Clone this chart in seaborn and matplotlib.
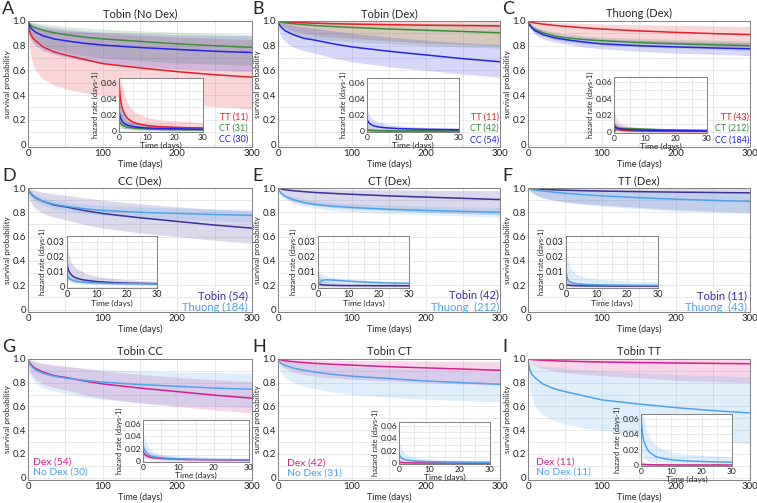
import matplotlib
matplotlib.use("Agg")
import matplotlib.pyplot as plt
from matplotlib.ticker import MultipleLocator, FuncFormatter
import seaborn as sns

# survival curves, time in days
days = [0, 1, 3, 6, 10, 20, 35, 50, 75, 100, 150, 200, 250, 300]
# hazard curves (insets), time in days
hdays = [0, 0.5, 1, 2, 3, 5, 7, 10, 15, 20, 25, 30]

# Tobin cohort, no dexamethasone
nodex_tt = [1.0, 0.95, 0.9, 0.865, 0.84, 0.79, 0.75, 0.725, 0.69, 0.655, 0.62, 0.59, 0.565, 0.545]
nodex_tt_lo = [1.0, 0.85, 0.74, 0.66, 0.6, 0.53, 0.48, 0.45, 0.42, 0.4, 0.36, 0.33, 0.31, 0.285]
nodex_tt_hi = [1.0, 0.99, 0.975, 0.965, 0.955, 0.94, 0.93, 0.92, 0.91, 0.9, 0.885, 0.87, 0.86, 0.85]
nodex_tt_h = [0.062, 0.04, 0.03, 0.021, 0.016, 0.011, 0.009, 0.007, 0.0055, 0.0048, 0.0043, 0.004]
nodex_tt_hlo = [0.02, 0.012, 0.009, 0.006, 0.0045, 0.003, 0.0025, 0.002, 0.0015, 0.0012, 0.001, 0.0009]
nodex_tt_hhi = [0.066, 0.066, 0.06, 0.045, 0.035, 0.025, 0.021, 0.017, 0.014, 0.013, 0.012, 0.011]

nodex_ct = [1.0, 0.985, 0.97, 0.955, 0.945, 0.925, 0.905, 0.89, 0.87, 0.855, 0.835, 0.815, 0.8, 0.787]
nodex_ct_lo = [1.0, 0.94, 0.9, 0.87, 0.84, 0.8, 0.77, 0.75, 0.72, 0.7, 0.68, 0.66, 0.65, 0.64]
nodex_ct_hi = [1.0, 1.0, 0.995, 0.99, 0.985, 0.975, 0.965, 0.955, 0.945, 0.935, 0.92, 0.91, 0.9, 0.89]
nodex_ct_h = [0.015, 0.01, 0.008, 0.006, 0.005, 0.004, 0.0033, 0.0028, 0.0023, 0.002, 0.0018, 0.0017]
nodex_ct_hlo = [0.005, 0.0035, 0.003, 0.0022, 0.0018, 0.0014, 0.0012, 0.001, 0.0008, 0.0007, 0.0006, 0.0006]
nodex_ct_hhi = [0.035, 0.028, 0.022, 0.016, 0.013, 0.01, 0.008, 0.007, 0.006, 0.0055, 0.005, 0.0048]

nodex_cc = [1.0, 0.975, 0.95, 0.93, 0.91, 0.88, 0.855, 0.84, 0.82, 0.805, 0.785, 0.77, 0.755, 0.745]
nodex_cc_lo = [1.0, 0.9, 0.86, 0.83, 0.8, 0.76, 0.73, 0.71, 0.68, 0.66, 0.63, 0.61, 0.6, 0.59]
nodex_cc_hi = [1.0, 1.0, 0.99, 0.98, 0.975, 0.96, 0.945, 0.935, 0.92, 0.91, 0.9, 0.89, 0.885, 0.88]
nodex_cc_h = [0.025, 0.017, 0.013, 0.009, 0.0075, 0.0058, 0.0048, 0.004, 0.0033, 0.003, 0.0027, 0.0025]
nodex_cc_hlo = [0.008, 0.006, 0.005, 0.0035, 0.003, 0.0022, 0.0018, 0.0015, 0.0012, 0.001, 0.0009, 0.0008]
nodex_cc_hhi = [0.045, 0.035, 0.028, 0.02, 0.016, 0.012, 0.01, 0.0085, 0.007, 0.0062, 0.0058, 0.0055]

# Tobin cohort, dexamethasone
dex_tt = [1.0, 0.999, 0.997, 0.995, 0.993, 0.99, 0.985, 0.982, 0.978, 0.975, 0.97, 0.966, 0.963, 0.96]
dex_tt_lo = [1.0, 0.99, 0.975, 0.96, 0.945, 0.92, 0.9, 0.885, 0.87, 0.86, 0.84, 0.82, 0.81, 0.8]
dex_tt_hi = [1.0, 1.0, 1.0, 1.0, 1.0, 1.0, 1.0, 1.0, 1.0, 1.0, 1.0, 1.0, 1.0, 1.0]
dex_tt_h = [0.0015, 0.001, 0.0009, 0.0007, 0.0006, 0.0005, 0.0004, 0.0004, 0.0003, 0.0003, 0.0003, 0.0003]
dex_tt_hlo = [0.0, 0.0, 0.0, 0.0, 0.0, 0.0, 0.0, 0.0, 0.0, 0.0, 0.0, 0.0]
dex_tt_hhi = [0.008, 0.005, 0.004, 0.003, 0.0025, 0.002, 0.0018, 0.0016, 0.0014, 0.0013, 0.0012, 0.0012]

dex_ct = [1.0, 0.998, 0.995, 0.99, 0.985, 0.978, 0.97, 0.963, 0.955, 0.948, 0.935, 0.925, 0.915, 0.905]
dex_ct_lo = [1.0, 0.98, 0.96, 0.94, 0.92, 0.89, 0.87, 0.855, 0.84, 0.83, 0.815, 0.8, 0.79, 0.78]
dex_ct_hi = [1.0, 1.0, 1.0, 1.0, 1.0, 0.998, 0.995, 0.993, 0.99, 0.988, 0.985, 0.982, 0.98, 0.978]
dex_ct_h = [0.002, 0.0015, 0.0012, 0.001, 0.0009, 0.0008, 0.0007, 0.0006, 0.0006, 0.0005, 0.0005, 0.0005]
dex_ct_hlo = [0.0, 0.0, 0.0, 0.0, 0.0, 0.0, 0.0, 0.0, 0.0, 0.0, 0.0, 0.0]
dex_ct_hhi = [0.01, 0.007, 0.005, 0.004, 0.0035, 0.003, 0.0027, 0.0024, 0.0022, 0.002, 0.002, 0.0019]

dex_cc = [1.0, 0.98, 0.96, 0.94, 0.92, 0.89, 0.86, 0.845, 0.815, 0.79, 0.755, 0.725, 0.695, 0.67]
dex_cc_lo = [1.0, 0.93, 0.89, 0.86, 0.83, 0.79, 0.76, 0.74, 0.7, 0.67, 0.63, 0.6, 0.57, 0.545]
dex_cc_hi = [1.0, 1.0, 0.995, 0.99, 0.98, 0.965, 0.95, 0.94, 0.92, 0.9, 0.87, 0.845, 0.825, 0.81]
dex_cc_h = [0.015, 0.011, 0.009, 0.0068, 0.0058, 0.0046, 0.004, 0.0033, 0.0027, 0.0023, 0.0021, 0.0019]
dex_cc_hlo = [0.006, 0.005, 0.0042, 0.0034, 0.003, 0.0024, 0.002, 0.0016, 0.0013, 0.0011, 0.001, 0.0009]
dex_cc_hhi = [0.028, 0.022, 0.018, 0.0145, 0.0125, 0.01, 0.0085, 0.0068, 0.0055, 0.0046, 0.004, 0.0036]

# Thuong cohort, dexamethasone
th_tt = [1.0, 0.997, 0.993, 0.988, 0.983, 0.975, 0.965, 0.957, 0.945, 0.935, 0.92, 0.908, 0.898, 0.89]
th_tt_lo = [1.0, 0.985, 0.97, 0.955, 0.94, 0.92, 0.9, 0.885, 0.865, 0.85, 0.83, 0.81, 0.8, 0.79]
th_tt_hi = [1.0, 1.0, 1.0, 1.0, 0.998, 0.995, 0.99, 0.985, 0.98, 0.975, 0.97, 0.965, 0.96, 0.955]
th_tt_h = [0.01, 0.005, 0.0035, 0.0025, 0.002, 0.0016, 0.0014, 0.0012, 0.001, 0.0009, 0.0008, 0.0008]
th_tt_hlo = [0.002, 0.001, 0.0008, 0.0006, 0.0005, 0.0004, 0.0003, 0.0003, 0.0002, 0.0002, 0.0002, 0.0002]
th_tt_hhi = [0.03, 0.02, 0.015, 0.011, 0.009, 0.007, 0.006, 0.005, 0.0042, 0.0037, 0.0034, 0.0032]

th_ct = [1.0, 0.985, 0.965, 0.945, 0.93, 0.905, 0.88, 0.865, 0.85, 0.84, 0.825, 0.815, 0.808, 0.8]
th_ct_lo = [1.0, 0.975, 0.95, 0.925, 0.905, 0.875, 0.85, 0.835, 0.815, 0.805, 0.79, 0.78, 0.77, 0.76]
th_ct_hi = [1.0, 0.995, 0.98, 0.965, 0.95, 0.93, 0.91, 0.895, 0.88, 0.87, 0.86, 0.85, 0.845, 0.84]
th_ct_h = [0.0, 0.0025, 0.0038, 0.0044, 0.0045, 0.0043, 0.004, 0.0036, 0.003, 0.0026, 0.0023, 0.0022]
th_ct_hlo = [0.0, 0.0012, 0.002, 0.0025, 0.0027, 0.0027, 0.0026, 0.0024, 0.002, 0.0017, 0.0015, 0.0014]
th_ct_hhi = [0.012, 0.01, 0.009, 0.0075, 0.0068, 0.006, 0.0055, 0.005, 0.0043, 0.0038, 0.0034, 0.0032]

th_cc = [1.0, 0.98, 0.96, 0.94, 0.92, 0.89, 0.865, 0.85, 0.83, 0.815, 0.8, 0.79, 0.782, 0.775]
th_cc_lo = [1.0, 0.965, 0.94, 0.915, 0.89, 0.855, 0.83, 0.815, 0.79, 0.775, 0.755, 0.74, 0.73, 0.72]
th_cc_hi = [1.0, 0.995, 0.98, 0.965, 0.95, 0.925, 0.9, 0.885, 0.87, 0.855, 0.845, 0.835, 0.83, 0.825]
th_cc_h = [0.008, 0.006, 0.005, 0.004, 0.0035, 0.003, 0.0027, 0.0024, 0.0021, 0.0019, 0.0018, 0.0017]
th_cc_hlo = [0.004, 0.0033, 0.0028, 0.0023, 0.002, 0.0018, 0.0016, 0.0014, 0.0012, 0.0011, 0.001, 0.001]
th_cc_hhi = [0.014, 0.011, 0.009, 0.007, 0.006, 0.005, 0.0045, 0.004, 0.0035, 0.0032, 0.003, 0.0029]

series = {
    "nodex_tt": (nodex_tt, nodex_tt_lo, nodex_tt_hi, nodex_tt_h, nodex_tt_hlo, nodex_tt_hhi),
    "nodex_ct": (nodex_ct, nodex_ct_lo, nodex_ct_hi, nodex_ct_h, nodex_ct_hlo, nodex_ct_hhi),
    "nodex_cc": (nodex_cc, nodex_cc_lo, nodex_cc_hi, nodex_cc_h, nodex_cc_hlo, nodex_cc_hhi),
    "dex_tt": (dex_tt, dex_tt_lo, dex_tt_hi, dex_tt_h, dex_tt_hlo, dex_tt_hhi),
    "dex_ct": (dex_ct, dex_ct_lo, dex_ct_hi, dex_ct_h, dex_ct_hlo, dex_ct_hhi),
    "dex_cc": (dex_cc, dex_cc_lo, dex_cc_hi, dex_cc_h, dex_cc_hlo, dex_cc_hhi),
    "th_tt": (th_tt, th_tt_lo, th_tt_hi, th_tt_h, th_tt_hlo, th_tt_hhi),
    "th_ct": (th_ct, th_ct_lo, th_ct_hi, th_ct_h, th_ct_hlo, th_ct_hhi),
    "th_cc": (th_cc, th_cc_lo, th_cc_hi, th_cc_h, th_cc_hlo, th_cc_hhi),
}

RED, GREEN, BLUE = "#e0202a", "#3c8c3c", "#2424e6"
NAVY, LIGHT, MAGENTA = "#3b3196", "#4da3ea", "#d4208c"

# letter, title, [(series, label, colour)], inset [x, top, w, h] px, inset ymax, legend
panels = [
    ("A", "Tobin (No Dex)", [("nodex_tt", "TT (11)", RED), ("nodex_ct", "CT (31)", GREEN), ("nodex_cc", "CC (30)", BLUE)],
     (119, 78, 84, 54), 0.066, ("right", 248, [117, 128, 139], 6.5)),
    ("B", "Tobin (Dex)", [("dex_tt", "TT (11)", RED), ("dex_ct", "CT (42)", GREEN), ("dex_cc", "CC (54)", BLUE)],
     (367, 78, 92, 54), 0.066, ("right", 499, [117, 128, 140], 6.5)),
    ("C", "Thuong (Dex)", [("th_tt", "TT (43)", RED), ("th_ct", "CT (212)", GREEN), ("th_cc", "CC (184)", BLUE)],
     (614, 77, 93, 56), 0.066, ("right", 749, [117, 128, 140], 6.5)),
    ("D", "CC (Dex)", [("dex_cc", "Tobin (54)", NAVY), ("th_cc", "Thuong (184)", LIGHT)],
     (67, 236, 90, 52), 0.034, ("right", 248, [296, 307], 8)),
    ("E", "CT (Dex)", [("dex_ct", "Tobin (42)", NAVY), ("th_ct", "Thuong  (212)", LIGHT)],
     (318, 236, 91, 52), 0.034, ("right", 499, [295, 307], 8)),
    ("F", "TT (Dex)", [("dex_tt", "Tobin (11)", NAVY), ("th_tt", "Thuong  (43)", LIGHT)],
     (566, 236, 92, 52), 0.034, ("right", 747, [296, 307], 8)),
    ("G", "Tobin CC", [("dex_cc", "Dex (54)", MAGENTA), ("nodex_cc", "No Dex (30)", LIGHT)],
     (143, 420, 106, 42), 0.066, ("left", 33, [462, 472], 7.5)),
    ("H", "Tobin CT", [("dex_ct", "Dex (42)", MAGENTA), ("nodex_ct", "No Dex (31)", LIGHT)],
     (399, 422, 91, 42), 0.066, ("left", 287, [463, 473], 7.5)),
    ("I", "Tobin TT", [("dex_tt", "Dex (11)", MAGENTA), ("nodex_tt", "No Dex (11)", LIGHT)],
     (641, 414, 91, 52), 0.066, ("left", 536, [462, 472], 7.5)),
]

sns.set_theme(style="white")
plt.rcParams["font.family"] = ["Lato", "DejaVu Sans"]
plt.rcParams["xtick.direction"] = "in"
plt.rcParams["ytick.direction"] = "in"

W, H = 757, 503
fig = plt.figure(figsize=(W / 100, H / 100), dpi=100)


def px_rect(x, top, w, h):
    return [x / W, 1 - (top + h) / H, w / W, h / H]


def style_axes(ax, fs):
    for sp in ax.spines.values():
        sp.set_color("#808080")
        sp.set_linewidth(0.7)
    ax.grid(True, which="both", color="#e2e2e2", lw=0.5)
    ax.set_axisbelow(True)
    ax.tick_params(which="both", length=2, width=0.5, color="#808080",
                   labelsize=fs, pad=1.5, labelcolor="#222222")
    ax.tick_params(which="minor", length=0)


def band(ax, x, y, lo, hi, color):
    ax.fill_between(x, lo, hi, color=color, alpha=0.18, lw=0)
    sns.lineplot(x=x, y=y, ax=ax, color=color, lw=1.1)


col_left = [28, 278, 528]
col_w = [224, 222, 222]
row_top = [21, 188, 359]
row_h = [126, 124, 121]

for i, (letter, title, curves, ins, ymax, leg) in enumerate(panels):
    r, c = divmod(i, 3)
    ax = fig.add_axes(px_rect(col_left[c], row_top[r], col_w[c], row_h[r]))
    ax.set_facecolor("white")
    for key, label, color in curves:
        s = series[key]
        band(ax, days, s[0], s[1], s[2], color)
    ax.set_xlim(0, 300)
    ax.set_ylim(-0.02, 1.0)
    ax.xaxis.set_major_locator(MultipleLocator(100))
    ax.xaxis.set_minor_locator(MultipleLocator(50))
    ax.yaxis.set_major_locator(MultipleLocator(0.2))
    ax.yaxis.set_minor_locator(MultipleLocator(0.1))
    ax.yaxis.set_major_formatter(FuncFormatter(lambda v, p: "0" if abs(v) < 1e-9 else f"{v:.1f}"))
    style_axes(ax, 7)
    ax.set_xlabel("Time (days)", fontsize=6.5, labelpad=1)
    ax.set_ylabel("survival probability", fontsize=5.8, labelpad=1)
    ax.set_title(title, fontsize=8, pad=3)
    lx = 2 if c == 0 else col_left[c] - 26
    fig.text(lx / W, 1 - (row_top[r] - 20) / H, letter, fontsize=13, va="top", ha="left")

    # hazard inset
    ix = fig.add_axes(px_rect(*ins))
    ix.set_facecolor("white")
    for key, label, color in curves:
        s = series[key]
        band(ix, hdays, s[3], s[4], s[5], color)
    ix.set_xlim(0, 30)
    ix.set_ylim(-0.001, ymax)
    ix.xaxis.set_major_locator(MultipleLocator(10))
    ix.xaxis.set_minor_locator(MultipleLocator(5))
    if ymax > 0.05:
        ix.yaxis.set_major_locator(MultipleLocator(0.02))
        ix.yaxis.set_minor_locator(MultipleLocator(0.01))
    else:
        ix.yaxis.set_major_locator(MultipleLocator(0.01))
        ix.yaxis.set_minor_locator(MultipleLocator(0.005))
    ix.yaxis.set_major_formatter(FuncFormatter(lambda v, p: "0" if abs(v) < 1e-9 else f"{v:g}"))
    style_axes(ix, 6 if ymax > 0.05 else 6.5)
    ix.set_xlabel("Time (days)", fontsize=6, labelpad=0.5)
    ix.set_ylabel("hazard rate (days-1)", fontsize=5.5, labelpad=1)

    # coloured text legend
    side, lx, ys, fs = leg
    for (key, label, color), ly in zip(curves, ys):
        fig.text(lx / W, 1 - ly / H, label, color=color, fontsize=fs,
                 ha=side, va="center")

fig.savefig("out.png", dpi=100)
